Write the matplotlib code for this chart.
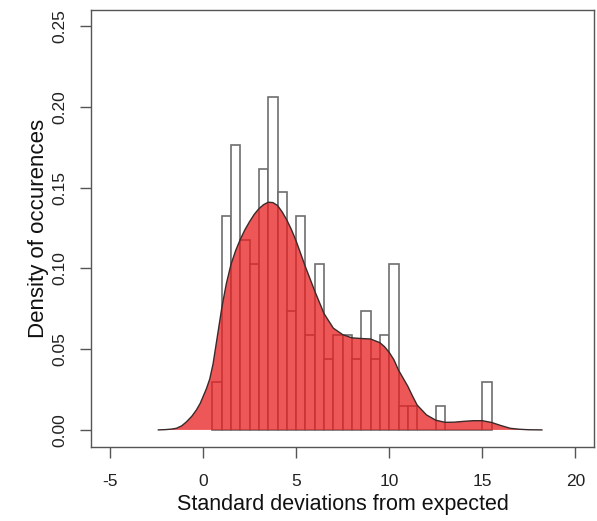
import matplotlib
matplotlib.use("Agg")
import matplotlib.pyplot as plt
import numpy as np

plt.rcParams['font.family'] = ['Liberation Sans', 'DejaVu Sans']

# Histogram: bin left edges (width 0.5) and densities
bin_width = 0.5
bin_lefts = [0.5, 1.0, 1.5, 2.0, 2.5, 3.0, 3.5, 4.0, 4.5, 5.0, 5.5, 6.0, 6.5, 7.0, 7.5,
             8.0, 8.5, 9.0, 9.5, 10.0, 10.5, 11.0, 11.5, 12.0, 12.5, 13.0, 13.5, 14.0,
             14.5, 15.0]
densities = [0.0294, 0.1324, 0.1765, 0.1176, 0.1029, 0.1618, 0.2059, 0.1471, 0.0735,
             0.1324, 0.0588, 0.1029, 0.0441, 0.0588, 0.0588, 0.0441, 0.0735, 0.0441,
             0.0588, 0.1029, 0.0147, 0.0147, 0.0, 0.0, 0.0147, 0.0, 0.0, 0.0, 0.0, 0.0294]

# Density curve points
curve_x = [-2.4, -2.0, -1.7, -1.43, -1.15, -0.89, -0.6, -0.36, -0.15, 0.0, 0.18, 0.36,
           0.54, 0.77, 1.02, 1.25, 1.5, 1.75, 2.0, 2.25, 2.5, 2.75, 3.0, 3.25, 3.5, 3.75,
           4.0, 4.25, 4.5, 4.75, 5.0, 5.5, 6.0, 6.5, 7.0, 7.5, 8.0, 8.5, 9.0, 9.5, 9.75,
           10.0, 10.25, 10.5, 10.75, 11.0, 11.25, 11.5, 12.0, 12.5, 13.0, 13.5, 14.0,
           14.5, 15.0, 15.5, 16.0, 16.5, 17.0, 17.5, 18.2]
curve_y = [0.0, 0.0002, 0.0005, 0.001, 0.0025, 0.005, 0.0085, 0.0123, 0.0165, 0.0206,
           0.0255, 0.0315, 0.041, 0.058, 0.0765, 0.0905, 0.1025, 0.111, 0.118, 0.124,
           0.129, 0.1335, 0.137, 0.1395, 0.141, 0.1408, 0.139, 0.135, 0.130, 0.124, 0.117,
           0.101, 0.086, 0.072, 0.063, 0.059, 0.057, 0.0566, 0.0563, 0.054, 0.0515, 0.048,
           0.0435, 0.037, 0.032, 0.027, 0.021, 0.0154, 0.0093, 0.006, 0.0047, 0.0048,
           0.0053, 0.0057, 0.0057, 0.0046, 0.0027, 0.001, 0.0004, 0.0001, 0.0]

x_ticks = [-5, 0, 5, 10, 15, 20]
y_ticks = [0.00, 0.05, 0.10, 0.15, 0.20, 0.25]

fig = plt.figure(figsize=(5.97, 5.21), dpi=100)
ax = fig.add_axes([0.153, 0.1426, 0.842, 0.838])

ax.bar(bin_lefts, densities, width=bin_width, align='edge', facecolor='white',
       edgecolor='#6e6e6e', linewidth=1.2, zorder=2)
ax.fill(curve_x, curve_y, facecolor='#e81f1f', alpha=0.75, edgecolor='none', zorder=3)
ax.plot(curve_x, curve_y, color='#3a2a2a', linewidth=1.0, zorder=4)

ax.set_xlim(-6, 21)
ax.set_ylim(-0.0104, 0.26)
ax.set_xticks(x_ticks)
ax.set_xticklabels([str(t) for t in x_ticks])
ax.set_yticks(y_ticks)
ax.set_yticklabels(['%.2f' % t for t in y_ticks], rotation=90, va='center')

for s in ax.spines.values():
    s.set_color('#555555')
    s.set_linewidth(1.0)
ax.tick_params(axis='both', length=8, width=1.0, color='#555555', labelsize=12.5,
               labelcolor='#222222')
ax.tick_params(axis='x', pad=12)
ax.tick_params(axis='y', pad=9)

ax.set_xlabel('Standard deviations from expected', fontsize=15.5, color='#111111', labelpad=3)
ax.set_ylabel('Density of occurences', fontsize=16, color='#111111', labelpad=3)

fig.savefig('out.png', dpi=100)
